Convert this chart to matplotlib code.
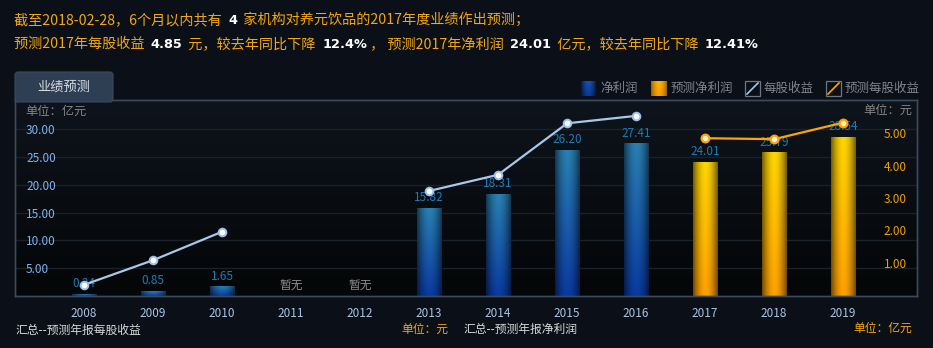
import numpy as np
import matplotlib.pyplot as plt
from matplotlib.colors import to_rgb
from matplotlib.patches import Rectangle, FancyBboxPatch

plt.rcParams['font.family'] = ['Noto Sans CJK SC', 'DejaVu Sans']

nan = np.nan
years = ['2008', '2009', '2010', '2011', '2012', '2013', '2014', '2015',
         '2016', '2017', '2018', '2019']
# 净利润 (亿元): actual and forecast
profit = [0.24, 0.85, 1.65, nan, nan, 15.82, 18.31, 26.20, 27.41, nan, nan, nan]
profit_fc = [nan, nan, nan, nan, nan, nan, nan, nan, nan, 24.01, 25.79, 28.54]
# 每股收益 (元): actual and forecast
eps = [0.32, 1.08, 1.96, nan, nan, 3.22, 3.72, 5.31, 5.54, nan, nan, nan]
eps_fc = [nan, nan, nan, nan, nan, nan, nan, nan, nan, 4.85, 4.82, 5.33]
left_ticks = [5, 10, 15, 20, 25, 30]
right_ticks = [1, 2, 3, 4, 5]

BG = '#0b1018'
ORANGE = '#f3a712'
GRAY = '#7d8590'
BORDER = '#3b4a5b'
W, H = 933, 348

fig = plt.figure(figsize=(W / 100, H / 100), dpi=100, facecolor=BG)
ax = fig.add_axes([15 / W, 1 - 296 / H, (917 - 15) / W, (296 - 100) / H])
ax2 = ax.twinx()

x = np.arange(len(years))

# plot background, darker towards the bottom
bg = np.linspace(0, 1, 100)[:, None, None]
bg_img = np.array(to_rgb('#0e141c')) * (1 - bg) + np.array(to_rgb('#040607')) * bg
ax.imshow(bg_img, extent=[0, 1, 0, 1], transform=ax.transAxes,
          aspect='auto', zorder=-1, interpolation='bilinear')


def gradient_fill(target, x0, x1, y0, y1, top, bottom, edge=0.45, z=2):
    rows, cols = 80, 40
    t = np.linspace(0, 1, rows)[:, None]
    col = np.array(to_rgb(top)) * (1 - t) + np.array(to_rgb(bottom)) * t
    u = np.linspace(-1, 1, cols)
    shade = 1 - (1 - edge) * np.abs(u) ** 1.8
    img = col[:, None, :] * shade[None, :, None]
    target.imshow(np.clip(img, 0, 1), extent=[x0, x1, y0, y1], origin='upper',
                  aspect='auto', zorder=z, interpolation='bilinear')


bw = 0.36
bars = ax.bar(x, profit, width=bw, color='none', edgecolor='none', zorder=2)
bars_fc = ax.bar(x, profit_fc, width=bw, color='none', edgecolor='none', zorder=2)
for container, top, bottom in [(bars, '#2a80b2', '#0a3aa2'),
                               (bars_fc, '#ffd600', '#ffa000')]:
    for b in container:
        h = b.get_height()
        if np.isnan(h):
            continue
        x0 = b.get_x()
        gradient_fill(ax, x0, x0 + b.get_width(), 0, h, top, bottom)

# value labels above the bars
for i, v in enumerate(profit):
    val = v if not np.isnan(v) else profit_fc[i]
    if np.isnan(val):
        ax.annotate('暂无', (i, 0), xytext=(0, 7), textcoords='offset points',
                    ha='center', va='center', color='#8c8c8c', fontsize=8.5, zorder=5)
    else:
        ax.annotate(f'{val:.2f}', (i, val), xytext=(0, 3), textcoords='offset points',
                    ha='center', va='bottom', color='#1c7cb5', fontsize=8.5, zorder=5)

# EPS lines on the right axis
ax2.plot(x, eps, color='#a8c8e8', lw=1.6, marker='o', ms=5.5, mfc='white',
         mec='#9cc0e8', mew=1.4, zorder=6)
ax2.plot(x, eps_fc, color='#ffa500', lw=1.6, marker='o', ms=5.5, mfc='#fff2d0',
         mec='#ffa500', mew=1.6, zorder=6)

ax.set_xlim(-1.0, 12.07)
ax.set_ylim(0, 35.27)
ax2.set_ylim(-0.025, 6.03)

ax.set_yticks(left_ticks)
ax.set_yticklabels([f'{t:.2f}' for t in left_ticks])
ax.tick_params(axis='y', length=0, pad=-8, labelsize=8.5, labelcolor='#7fb2ee')
plt.setp(ax.get_yticklabels(), ha='left')
ax.yaxis.grid(True, color='#1a2129', lw=1)
ax.set_axisbelow(True)

ax.set_xticks(x)
ax.set_xticklabels(years)
ax.tick_params(axis='x', length=0, pad=8, labelsize=8.5, labelcolor='#a9c4e4')

ax2.set_yticks(right_ticks)
ax2.set_yticklabels([f'{t:.2f}' for t in right_ticks])
ax2.tick_params(axis='y', length=0, pad=-24, labelsize=8.5, labelcolor='#f0a000')

for a in (ax, ax2):
    for s in a.spines.values():
        s.set_color(BORDER)
        s.set_linewidth(1)

# overlay in pixel coordinates for header, tab, legend and captions
ov = fig.add_axes([0, 0, 1, 1], zorder=10)
ov.patch.set_visible(False)
ov.axis('off')

# tab
ov.add_patch(FancyBboxPatch((15, 72), 98, 30, boxstyle='round,pad=0,rounding_size=3',
                            facecolor='#2f3f53', edgecolor='#3a4b5f', lw=0.8))
ov.text(64, 87, '业绩预测', color='#d8dde4', fontsize=9.5, ha='center', va='center')

# header lines: orange text with bold white figures
lines = [
    (20, [('截至2018-02-28，6个月以内共有  ', ORANGE, False), ('4', 'white', True),
          ('  家机构对养元饮品的2017年度业绩作出预测；', ORANGE, False)]),
    (44, [('预测2017年每股收益  ', ORANGE, False), ('4.85', 'white', True),
          ('  元，较去年同比下降  ', ORANGE, False), ('12.4%', 'white', True),
          (' ， 预测2017年净利润  ', ORANGE, False), ('24.01', 'white', True),
          ('  亿元，较去年同比下降  ', ORANGE, False), ('12.41%', 'white', True)]),
]
for y, segs in lines:
    prev = None
    for txt, col, bold in segs:
        kw = dict(color=col, ha='left', va='center')
        if bold:
            kw.update(fontsize=9.3, fontweight='bold', family='DejaVu Sans')
        else:
            kw.update(fontsize=10.2)
        if prev is None:
            prev = ov.text(14, y, txt, **kw)
        else:
            prev = ov.annotate(txt, xy=(1, 0.5), xycoords=prev, **kw)

# legend
gradient_fill(ov, 581, 596, 96, 81, '#1a50b0', '#0a3a98', edge=0.35, z=11)
ov.text(600, 88, '净利润', color=GRAY, fontsize=9, va='center')
gradient_fill(ov, 651, 667, 96, 81, '#ffb400', '#ff9c00', edge=0.6, z=11)
ov.text(671, 88, '预测净利润', color=GRAY, fontsize=9, va='center')
for bx, lc, label in [(745, '#a8c8e8', '每股收益'), (826, '#ffa500', '预测每股收益')]:
    ov.add_patch(Rectangle((bx, 81), 15, 15, facecolor='none', edgecolor='#6d7682', lw=0.9))
    ov.plot([bx + 2, bx + 13], [94, 83], color=lc, lw=1.2)
    ov.text(bx + 19, 88, label, color=GRAY, fontsize=9, va='center')

# unit notes inside the plot
ov.text(25, 111, '单位：亿元', color='#858585', fontsize=8.8, va='center')
ov.text(912, 110, '单位：元', color='#858585', fontsize=8.8, va='center', ha='right')

# captions under the axis
ov.text(15, 330, '汇总--预测年报每股收益', color='#d8d8d8', fontsize=8.5, va='center')
ov.text(401, 329, '单位：元', color=ORANGE, fontsize=8.5, va='center')
ov.text(463, 329, '汇总--预测年报净利润', color='#d8d8d8', fontsize=8.5, va='center')
ov.text(912, 328, '单位：亿元', color=ORANGE, fontsize=8.5, va='center', ha='right')

ov.set_xlim(0, W)
ov.set_ylim(H, 0)

fig.savefig('out.png', dpi=100, facecolor=BG)
